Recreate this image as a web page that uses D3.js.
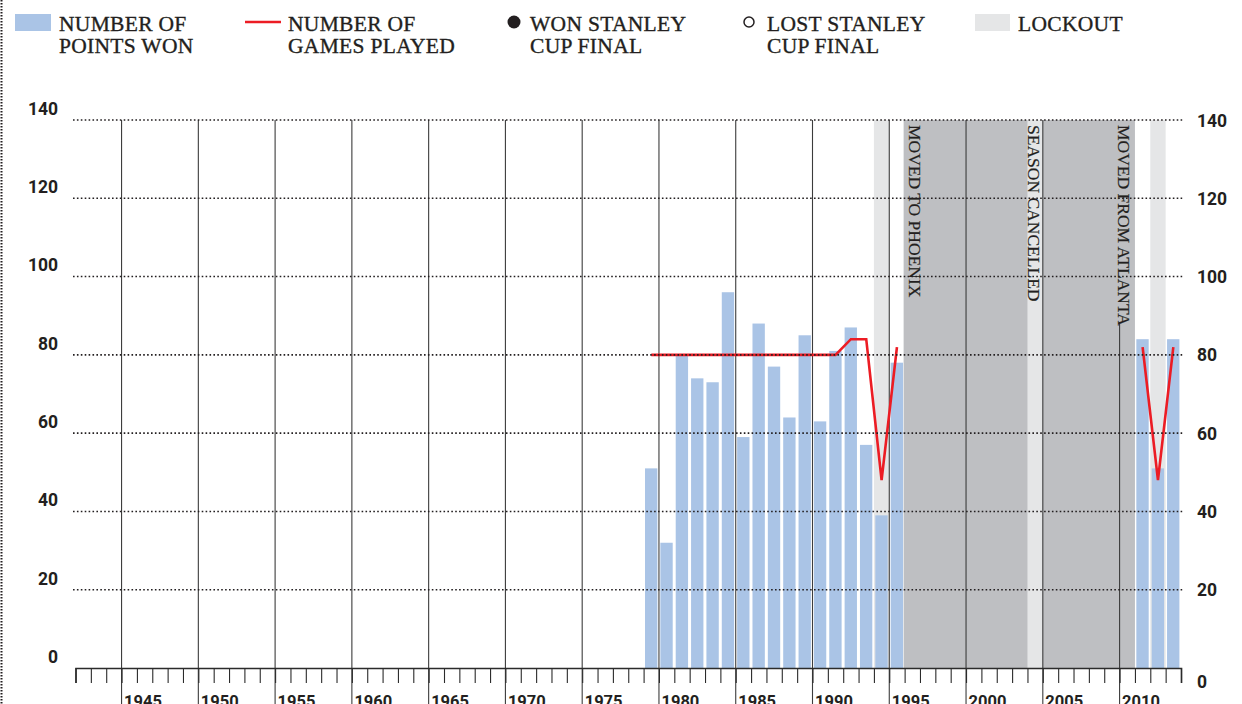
<!DOCTYPE html>
<html>
<head>
<meta charset="utf-8">
<script src="https://cdn.jsdelivr.net/npm/d3@7"></script>
<style>
  body { margin: 0; background: #fff; }
  svg { display: block; }
  .serif { font-family: "Liberation Serif", "Times New Roman", serif; fill: #231f20; stroke: #231f20; stroke-width: 0.35px; }
  .num { font-family: Roboto, "DejaVu Sans", sans-serif; font-weight: 700; fill: #231f20; }
</style>
</head>
<body>
<div id="chart"></div>
<script>
// season start years the team played
var seasons = [1979, 1980, 1981, 1982, 1983, 1984, 1985, 1986, 1987, 1988, 1989, 1990,
               1991, 1992, 1993, 1994, 1995, 2011, 2012, 2013];
var pointsWon = [51, 32, 80, 74, 73, 96, 59, 88, 77, 64, 85, 63,
                 81, 87, 57, 39, 78, 84, 51, 84];
var gamesPlayed = [80, 80, 80, 80, 80, 80, 80, 80, 80, 80, 80, 80,
                   80, 84, 84, 48, 82, 82, 48, 82];

var lockoutSeasons = [1994, 2004, 2012];
var awayFrom = 1996, awayTo = 2011;   // team was in Phoenix

var yTicks = [0, 20, 40, 60, 80, 100, 120, 140];
var yearLabels = [1945, 1950, 1955, 1960, 1965, 1970, 1975, 1980, 1985, 1990, 1995, 2000, 2005, 2010];

var noteTexts = ["MOVED TO PHOENIX", "SEASON CANCELLED", "MOVED FROM ATLANTA"];
var noteYears = [1996, 2004, 2010];

var legendLabels = [["NUMBER OF", "POINTS WON"], ["NUMBER OF", "GAMES PLAYED"],
                    ["WON STANLEY", "CUP FINAL"], ["LOST STANLEY", "CUP FINAL"], ["LOCKOUT"]];

var width = 1242, height = 704;
var blue = "#aac4e6", red = "#ec1c24", lightGrey = "#e5e6e7", darkGrey = "#bebfc2", ink = "#231f20";

var svg = d3.select("#chart").append("svg")
    .attr("width", width)
    .attr("height", height);

// scales
var x = d3.scaleLinear().domain([1942, 2014]).range([75.5, 1181]);
var y = d3.scaleLinear().domain([0, 140]).range([668, 120]);
var yearW = x(1943) - x(1942);

// dotted border on the left
svg.append("line")
    .attr("x1", 1.5).attr("x2", 1.5).attr("y1", 0).attr("y2", height)
    .attr("stroke", ink).attr("stroke-width", 2).attr("stroke-dasharray", "1.6 1.4");

// legend
var legend = svg.append("g");
var legendX = [59, 288, 530, 767, 1018];
legend.append("rect").attr("x", 15).attr("y", 14).attr("width", 36).attr("height", 17).attr("fill", blue);
legend.append("line").attr("x1", 245).attr("x2", 281).attr("y1", 22).attr("y2", 22)
    .attr("stroke", red).attr("stroke-width", 2.6);
legend.append("circle").attr("cx", 514).attr("cy", 22).attr("r", 6.5).attr("fill", ink);
legend.append("circle").attr("cx", 749).attr("cy", 22).attr("r", 5).attr("fill", "none")
    .attr("stroke", ink).attr("stroke-width", 1.5);
legend.append("rect").attr("x", 975).attr("y", 14).attr("width", 35).attr("height", 17).attr("fill", lightGrey);
legendLabels.forEach(function(lines, i) {
    var t = legend.append("text").attr("class", "serif")
        .style("font-size", "21.5px").style("letter-spacing", "0.3px")
        .attr("x", legendX[i]).attr("y", 31);
    lines.forEach(function(l, j) {
        t.append("tspan").attr("x", legendX[i]).attr("y", 31 + j * 21.5).text(l);
    });
});

// background bands
svg.append("rect")
    .attr("x", x(awayFrom) - 1).attr("y", y(140))
    .attr("width", x(awayTo) - x(awayFrom) + 1).attr("height", y(0) - y(140))
    .attr("fill", darkGrey);
svg.selectAll(".lockout").data(lockoutSeasons).enter().append("rect")
    .attr("class", "lockout")
    .attr("x", function(d) { return x(d); })
    .attr("y", y(140))
    .attr("width", yearW)
    .attr("height", y(0) - y(140))
    .attr("fill", lightGrey);

// bars
svg.selectAll(".bar").data(seasons).enter().append("rect")
    .attr("class", "bar")
    .attr("x", function(d) { return x(d) + 1.4; })
    .attr("y", function(d, i) { return y(pointsWon[i]); })
    .attr("width", yearW - 3)
    .attr("height", function(d, i) { return y(0) - y(pointsWon[i]); })
    .attr("fill", blue);

// major year lines
svg.selectAll(".yline").data(yearLabels).enter().append("line")
    .attr("class", "yline")
    .attr("x1", function(d) { return x(d); })
    .attr("x2", function(d) { return x(d); })
    .attr("y1", function(d) { return d == 2010 ? 322 : y(140); })
    .attr("y2", height)
    .attr("stroke", "#3c3c3c").attr("stroke-width", 1.1);

// games played line, split where the team was away
var runs = [];
seasons.forEach(function(s, i) {
    var pt = {s: s, g: gamesPlayed[i]};
    if (i > 0 && s == seasons[i - 1] + 1) runs[runs.length - 1].push(pt);
    else runs.push([pt]);
});
var gameLine = d3.line()
    .x(function(d) { return x(d.s) + yearW / 2; })
    .y(function(d) { return y(d.g); });
svg.selectAll(".games").data(runs).enter().append("path")
    .attr("class", "games")
    .attr("d", gameLine)
    .attr("fill", "none")
    .attr("stroke", red)
    .attr("stroke-width", 2.6)
    .attr("stroke-linejoin", "miter");

// dotted gridlines on top
svg.selectAll(".grid").data(yTicks.filter(function(d) { return d > 0; })).enter().append("line")
    .attr("class", "grid")
    .attr("x1", 73).attr("x2", 1183)
    .attr("y1", function(d) { return y(d); })
    .attr("y2", function(d) { return y(d); })
    .attr("stroke", ink).attr("stroke-width", 1.6).attr("stroke-dasharray", "1.6 2.3");

// x axis with a tick for every season
var xAxis = svg.append("g")
    .attr("transform", "translate(0," + y(0) + ")")
    .call(d3.axisBottom(x).tickValues(d3.range(1942, 2015)).tickSize(15).tickSizeOuter(15).tickFormat(""));
xAxis.select(".domain").attr("stroke", "#2b2b2b").attr("stroke-width", 1.6);
xAxis.selectAll(".tick line").attr("stroke", "#2b2b2b").attr("stroke-width", 1.1);

svg.selectAll(".ylab").data(yearLabels).enter().append("text")
    .attr("class", "num ylab")
    .attr("x", function(d) { return x(d) + 2.5; })
    .attr("y", 707)
    .style("font-size", "16.5px")
    .text(function(d) { return d; });

// y axes
var leftAxis = svg.append("g")
    .attr("transform", "translate(73,0)")
    .call(d3.axisLeft(y).tickValues(yTicks).tickSize(0).tickPadding(15));
leftAxis.select(".domain").remove();
leftAxis.selectAll("text").attr("class", "num").attr("dy", "-0.32em")
    .style("font-size", "17.5px").attr("font-family", null);

var rightAxis = svg.append("g")
    .attr("transform", "translate(1183,0)")
    .call(d3.axisRight(y).tickValues(yTicks).tickSize(0).tickPadding(14));
rightAxis.select(".domain").remove();
rightAxis.selectAll("text").attr("class", "num")
    .attr("dy", function(d) { return d == 0 ? "1.1em" : "0.35em"; })
    .style("font-size", "17.5px").attr("font-family", null);

// vertical notes
svg.selectAll(".note").data(noteTexts).enter().append("text")
    .attr("class", "serif note")
    .attr("transform", function(d, i) {
        var nx = noteYears[i] == 1996 ? x(1996) + 4 : noteYears[i] == 2004 ? x(2004) + 0.5 : x(2010) - 1.5;
        return "translate(" + nx + ",125) rotate(90)";
    })
    .style("font-size", "17.5px")
    .style("stroke-width", "0.2px")
    .text(function(d) { return d; });
</script>
</body>
</html>
